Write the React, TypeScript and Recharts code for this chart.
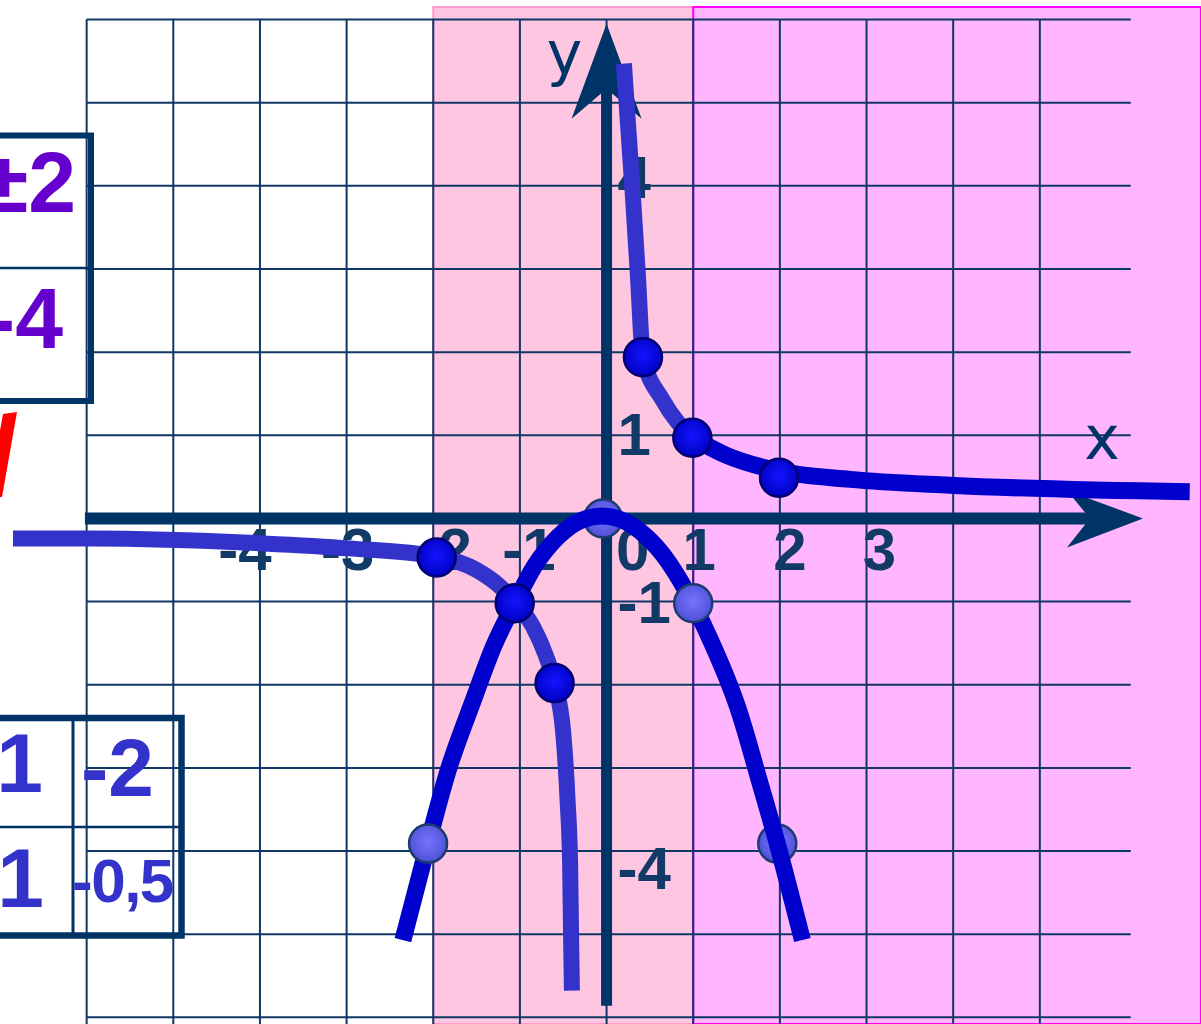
import React from "react";
import { ComposedChart, Line, XAxis, YAxis, ReferenceArea, ReferenceLine, ReferenceDot } from "recharts";

const W = 1201;
const H = 1024;

// domains picked so the grid squares land where they were drawn on the slide
const xDomain = [-7, 6.86];
const yDomain = [-6.08, 6.235];

const gridXs = [-6, -5, -4, -3, -2, -1, 0, 1, 2, 3, 4, 5];
const gridYs = [-6, -5, -4, -3, -2, -1, 0, 1, 2, 3, 4, 5, 6];

const xTickValues = [-4, -3, -2, -1, 0, 1, 2, 3];
const xTickLabels = ["-4", "-3", "-2", "-1", "0", "1", "2", "3"];
const yTickValues = [4, 1, -1, -4];
const yTickLabels = ["4", "1", "-1", "-4"];

// y = 1/x, hand drawn branches
const hypRightTop = [
    { x: 0.2, y: 5.47 },
    { x: 0.3, y: 3.94 },
    { x: 0.36, y: 2.95 },
    { x: 0.42, y: 1.94 },
    { x: 0.65, y: 1.42 },
    { x: 0.99, y: 0.97 },
];
const hypRightBottom = [
    { x: 0.99, y: 0.97 },
    { x: 1.38, y: 0.76 },
    { x: 1.99, y: 0.57 },
    { x: 2.81, y: 0.47 },
    { x: 3.96, y: 0.4 },
    { x: 6.73, y: 0.32 },
];
const hypLeft = [
    { x: -6.85, y: -0.24 },
    { x: -5.95, y: -0.24 },
    { x: -3.96, y: -0.3 },
    { x: -2.97, y: -0.36 },
    { x: -1.96, y: -0.46 },
    { x: -1.5, y: -0.62 },
    { x: -1.25, y: -0.8 },
    { x: -1.06, y: -1.0 },
    { x: -0.85, y: -1.3 },
    { x: -0.7, y: -1.65 },
    { x: -0.6, y: -1.98 },
    { x: -0.5, y: -2.58 },
    { x: -0.45, y: -3.39 },
    { x: -0.42, y: -4.19 },
    { x: -0.41, y: -5.0 },
    { x: -0.4, y: -5.68 },
];

// y = -x^2
const parabola = [
    { x: -2.35, y: -5.07 },
    { x: -2.06, y: -3.91 },
    { x: -1.81, y: -2.97 },
    { x: -1.55, y: -2.22 },
    { x: -1.3, y: -1.53 },
    { x: -1.06, y: -1.02 },
    { x: -0.83, y: -0.57 },
    { x: -0.56, y: -0.22 },
    { x: -0.31, y: -0.03 },
    { x: -0.05, y: 0.03 },
    { x: 0.2, y: -0.03 },
    { x: 0.45, y: -0.21 },
    { x: 0.71, y: -0.52 },
    { x: 1.0, y: -1.03 },
    { x: 1.25, y: -1.58 },
    { x: 1.51, y: -2.26 },
    { x: 1.74, y: -3.07 },
    { x: 1.97, y: -3.91 },
    { x: 2.26, y: -5.07 },
];

const hypPoints = [
    { x: 0.42, y: 1.94 },
    { x: 0.99, y: 0.97 },
    { x: 1.99, y: 0.49 },
    { x: -1.96, y: -0.47 },
    { x: -1.06, y: -1.02 },
    { x: -0.6, y: -1.98 },
];
const parPointsUnder = [
    { x: -0.04, y: 0 },
    { x: 1.97, y: -3.91 },
];
const parPointsOver = [
    { x: 1.0, y: -1.02 },
    { x: -2.06, y: -3.91 },
];

const xArrowTip = { x: 6.19, y: 0 };
const yArrowTip = { x: 0, y: 5.95 };

// small hand nudges (px) for the tick numbers, as on the slide
const xTickDx = [-15, 1, 12, 9, 26, 6, 10, 13];
const yTickDy = [12, 20, 21, 38];

const NAVY = "#003366";
const GRID = "#0e3766";
const FONT = "'Liberation Sans', Arial, sans-serif";

const xArrowShape = (p) => {
    const { cx, cy } = p;
    return (
        <g>
            <polygon points={`${cx},${cy} ${cx - 76},${cy - 28} ${cx - 53},${cy} ${cx - 76},${cy + 29}`} fill={NAVY} />
            <text x={cx - 41} y={cy - 59} textAnchor="middle" fontFamily="'DejaVu Sans', sans-serif" fontSize={60} fill={NAVY}>x</text>
        </g>
    );
};

const yArrowShape = (p) => {
    const { cx, cy } = p;
    return (
        <g>
            <polygon points={`${cx},${cy} ${cx - 35},${cy + 95} ${cx},${cy + 65} ${cx + 35},${cy + 95}`} fill={NAVY} />
            <text x={cx - 42} y={cy + 50} textAnchor="middle" fontFamily="'DejaVu Sans', sans-serif" fontSize={60} fill={NAVY}>y</text>
        </g>
    );
};

const tickText = (label, dx, dy, anchor) => (p) => (
    <text x={p.cx + dx} y={p.cy + dy} textAnchor={anchor}
          fontFamily={FONT} fontWeight="bold" fontSize={60} fill="#123a66">
        {label}
    </text>
);

const lightCircle = (p) => (
    <circle cx={p.cx} cy={p.cy} r={19} fill="url(#gLight)" stroke="#1d3c6e" strokeWidth={2.5} />
);

const marker = (fill, stroke) => (p) => {
    if (p.cx == null) return null;
    return <circle key={`m-${p.index}`} cx={p.cx} cy={p.cy} r={19} fill={fill} stroke={stroke} strokeWidth={2.5} />;
};

function Tables() {
    return (
        <svg width={W} height={H} style={{ position: "absolute", left: 0, top: 0, pointerEvents: "none" }}>
            <defs>
                <radialGradient id="gDark" cx="50%" cy="45%" r="55%">
                    <stop offset="0%" stopColor="#1414ff" />
                    <stop offset="100%" stopColor="#0000c4" />
                </radialGradient>
                <radialGradient id="gLight" cx="50%" cy="45%" r="55%">
                    <stop offset="0%" stopColor="#7474ff" />
                    <stop offset="100%" stopColor="#4f4fd6" />
                </radialGradient>
            </defs>

            {/* top table (cut by the slide edge) */}
            <path d="M0 135.5 H91 V401 H0" fill="none" stroke={NAVY} strokeWidth={6} />
            <line x1={0} y1={268} x2={88} y2={268} stroke={NAVY} strokeWidth={2.5} />
            <text x={76} y={212} textAnchor="end" fontFamily={FONT} fontWeight="bold" fontSize={86} fill="#6600cc">±2</text>
            <text x={63} y={348} textAnchor="end" fontFamily={FONT} fontWeight="bold" fontSize={86} fill="#6600cc">-4</text>

            {/* red tick mark */}
            <polygon points="3,414 17,412 2,497 -12,497" fill="#ff0000" />

            {/* bottom table */}
            <path d="M0 718 H181.5 V935.5 H0" fill="none" stroke={NAVY} strokeWidth={6.5} />
            <line x1={73} y1={718} x2={73} y2={935} stroke={NAVY} strokeWidth={3} />
            <line x1={0} y1={827} x2={181} y2={827} stroke={NAVY} strokeWidth={2.5} />
            <text x={43} y={792} textAnchor="end" fontFamily={FONT} fontWeight="bold" fontSize={84} fill="#3333cc">1</text>
            <text x={81} y={796} textAnchor="start" fontFamily={FONT} fontWeight="bold" fontSize={82} fill="#3333cc">-2</text>
            <text x={44} y={907} textAnchor="end" fontFamily={FONT} fontWeight="bold" fontSize={84} fill="#3333cc">1</text>
            <text x={72} y={902} textAnchor="start" fontFamily={FONT} fontWeight="bold" fontSize={62} letterSpacing={-1.5} fill="#3333cc">-0,5</text>
        </svg>
    );
}

export default function App() {
    return (
        <div style={{ position: "absolute", left: 0, top: 0, width: W, height: H, background: "#fff", overflow: "hidden" }}>
            <ComposedChart width={W} height={H} margin={{ top: 0, right: 0, bottom: 0, left: 0 }}>
                <XAxis type="number" dataKey="x" domain={xDomain} allowDataOverflow hide />
                <YAxis type="number" dataKey="y" domain={yDomain} allowDataOverflow hide />

                <ReferenceArea x1={-2} x2={1} y1={-6.08} y2={6.15} fill="#ffc6e2" fillOpacity={1} zIndex={100}
                               stroke="#ff99cc" strokeWidth={2} ifOverflow="hidden" />
                <ReferenceArea x1={1} x2={6.86} y1={-6.08} y2={6.15} fill="#ffb6ff" fillOpacity={1} zIndex={100}
                               stroke="#ff00ff" strokeWidth={2} ifOverflow="hidden" />

                {gridYs.map(v => (
                    <ReferenceLine key={`gy${v}`} segment={[{ x: -6, y: v }, { x: 6.05, y: v }]} zIndex={200}
                                   stroke={GRID} strokeWidth={2} ifOverflow="visible" />
                ))}
                {gridXs.map(v => (
                    <ReferenceLine key={`gx${v}`} segment={[{ x: v, y: -6.08 }, { x: v, y: 6 }]} zIndex={200}
                                   stroke={GRID} strokeWidth={2} ifOverflow="visible" />
                ))}

                {/* axes */}
                <ReferenceLine segment={[{ x: -6.02, y: 0 }, { x: 5.6, y: 0 }]} stroke={NAVY} strokeWidth={12}
                               zIndex={300} ifOverflow="visible" />
                <ReferenceLine segment={[{ x: 0, y: -5.86 }, { x: 0, y: 5.2 }]} stroke={NAVY} strokeWidth={11}
                               zIndex={300} ifOverflow="visible" />
                <ReferenceDot x={xArrowTip.x} y={xArrowTip.y} r={1} shape={xArrowShape} zIndex={310} ifOverflow="visible" />
                <ReferenceDot x={yArrowTip.x} y={yArrowTip.y} r={1} shape={yArrowShape} zIndex={310} ifOverflow="visible" />

                {/* tick numbers sit under the curves */}
                {xTickValues.map((v, i) => (
                    <ReferenceDot key={`xt${i}`} x={v} y={0} r={1} ifOverflow="visible" zIndex={350}
                                  shape={tickText(xTickLabels[i], xTickDx[i], 52, "middle")} />
                ))}
                {yTickValues.map((v, i) => (
                    <ReferenceDot key={`yt${i}`} x={0} y={v} r={1} ifOverflow="visible" zIndex={350}
                                  shape={tickText(yTickLabels[i], 11, yTickDy[i], "start")} />
                ))}

                {parPointsUnder.map((pt, i) => (
                    <ReferenceDot key={`pu${i}`} x={pt.x} y={pt.y} r={19} ifOverflow="visible" zIndex={360}
                                  shape={lightCircle} />
                ))}

                {/* curves */}
                <Line data={hypLeft} dataKey="y" type="monotone" stroke="#3333cc" strokeWidth={16}
                      dot={false} activeDot={false} isAnimationActive={false} />
                <Line data={hypRightTop} dataKey="y" type="monotone" stroke="#3333cc" strokeWidth={16}
                      dot={false} activeDot={false} isAnimationActive={false} />
                <Line data={hypRightBottom} dataKey="y" type="monotone" stroke="#0000cc" strokeWidth={17}
                      dot={false} activeDot={false} isAnimationActive={false} />
                <Line data={parabola} dataKey="y" type="natural" stroke="#0000cc" strokeWidth={17}
                      dot={false} activeDot={false} isAnimationActive={false} />

                <Line data={hypPoints} dataKey="y" stroke="none" dot={marker("url(#gDark)", "#00006e")}
                      activeDot={false} isAnimationActive={false} />
                <Line data={parPointsOver} dataKey="y" stroke="none" dot={marker("url(#gLight)", "#1d3c6e")}
                      activeDot={false} isAnimationActive={false} />
            </ComposedChart>
            <Tables />
        </div>
    );
}
